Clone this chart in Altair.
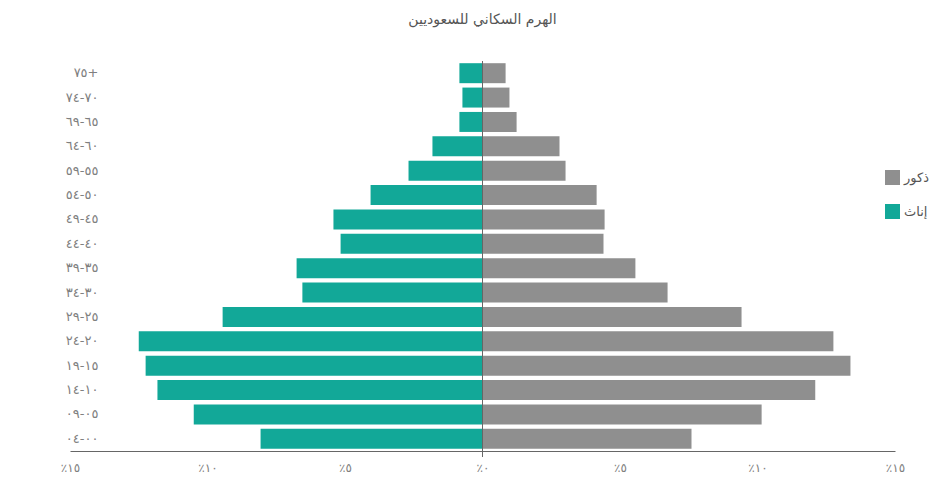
import altair as alt
import pandas as pd

title_text = "الهرم السكاني للسعوديين"
age_labels = ["٧٥+", "٧٠-٧٤", "٦٥-٦٩", "٦٠-٦٤", "٥٥-٥٩", "٥٠-٥٤", "٤٥-٤٩", "٤٠-٤٤",
              "٣٥-٣٩", "٣٠-٣٤", "٢٥-٢٩", "٢٠-٢٤", "١٥-١٩", "١٠-١٤", "٠٥-٠٩", "٠٠-٠٤"]
female = [0.84, 0.73, 0.84, 1.82, 2.69, 4.07, 5.42, 5.16, 6.76, 6.55, 9.45, 12.5, 12.25, 11.82, 10.5, 8.07]
male = [0.84, 0.98, 1.24, 2.80, 3.02, 4.15, 4.44, 4.40, 5.56, 6.73, 9.42, 12.76, 13.38, 12.10, 10.15, 7.60]
series_names = ["ذكور", "إناث"]
series_colors = ["#8f8f8f", "#12a898"]
tick_values = [-15, -10, -5, 0, 5, 10, 15]
tick_texts = ["٪١٥", "٪١٠", "٪٥", "٪٠", "٪٥", "٪١٠", "٪١٥"]

rows = []
for a, f, m in zip(age_labels, female, male):
    rows.append({"age": a, "value": m, "sex": series_names[0]})
    rows.append({"age": a, "value": -f, "sex": series_names[1]})
df = pd.DataFrame(rows)

label_expr = ""
for v, t in zip(tick_values, tick_texts):
    label_expr += f"datum.value == {v} ? '{t}' : "
label_expr += "''"

FONT = "DejaVu Sans"

bars = alt.Chart(df).mark_bar().encode(
    x=alt.X("value:Q", scale=alt.Scale(domain=[-15, 15], nice=False),
            axis=alt.Axis(values=tick_values, labelExpr=label_expr, title=None, grid=False,
                          ticks=False, domain=True, domainColor="#666666", domainWidth=1,
                          labelFlush=False, labelOverlap=False,
                          labelColor="#808080", labelFontSize=12, labelFont=FONT, labelPadding=11)),
    y=alt.Y("age:N", sort=age_labels,
            scale=alt.Scale(paddingInner=0.18, paddingOuter=0.09),
            axis=alt.Axis(title=None, ticks=False, domain=False, offset=-30,
                          labelColor="#808080", labelFontSize=13, labelFont=FONT, labelPadding=2)),
    color=alt.Color("sex:N", scale=alt.Scale(domain=series_names, range=series_colors),
                    legend=alt.Legend(title=None, orient="none", legendX=815, legendY=109,
                                      symbolType="square", symbolSize=225, symbolStrokeWidth=0,
                                      labelFont=FONT, labelFontSize=13, labelColor="#555555",
                                      rowPadding=19, symbolOpacity=1)),
)

center = alt.Chart(pd.DataFrame({"x": [0]})).mark_rule(color="#666666", strokeWidth=1).encode(
    x="x:Q", y=alt.value(0), y2=alt.value(396)
)

chart = alt.layer(bars, center).properties(
    width=825, height=390,
    title=alt.TitleParams(title_text, font=FONT, fontSize=14, fontWeight="normal", color="#555555",
                          anchor="middle", offset=34),
    padding={"left": 52, "top": 4, "right": 5, "bottom": 5},
).configure_view(stroke=None)

chart.save("out.html", embed_options={"renderer": "svg", "actions": False})
